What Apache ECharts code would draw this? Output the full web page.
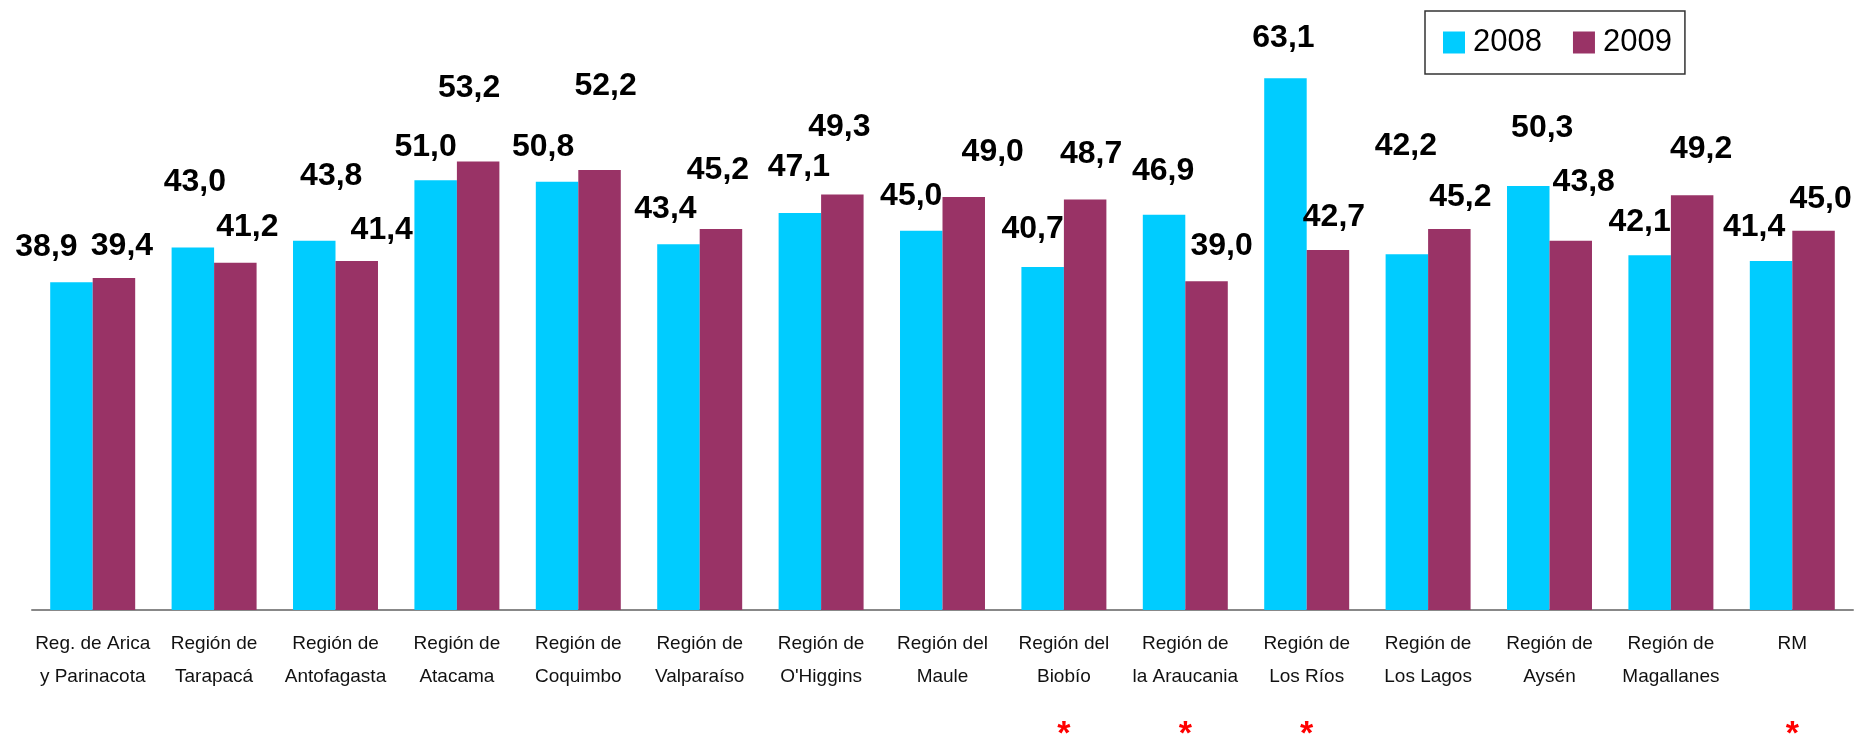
<!DOCTYPE html>
<html>
<head>
<meta charset="utf-8">
<script src="https://cdn.jsdelivr.net/npm/echarts@6/dist/echarts.min.js"></script>
<style>
  html, body { margin: 0; padding: 0; background: #fff; }
  #grafico { width: 1856px; height: 737px; }
</style>
</head>
<body>
<div id="grafico"></div>
<script>
var regiones = [
  'Reg. de Arica\ny Parinacota', 'Región de\nTarapacá', 'Región de\nAntofagasta',
  'Región de\nAtacama', 'Región de\nCoquimbo', 'Región de\nValparaíso',
  "Región de\nO'Higgins", 'Región del\nMaule', 'Región del\nBiobío',
  'Región de\nla Araucania', 'Región de\nLos Ríos', 'Región de\nLos Lagos',
  'Región de\nAysén', 'Región de\nMagallanes', 'RM'
];
var valores2008 = [38.9, 43.0, 43.8, 51.0, 50.8, 43.4, 47.1, 45.0, 40.7, 46.9, 63.1, 42.2, 50.3, 42.1, 41.4];
var valores2009 = [39.4, 41.2, 41.4, 53.2, 52.2, 45.2, 49.3, 49.0, 48.7, 39.0, 42.7, 45.2, 43.8, 49.2, 45.0];
// regiones marcadas con asterisco
var marcadas = [8, 9, 10, 14];

// ubicacion de las etiquetas (como en el original, no todas a la misma altura)
var alto2008 = [35, 65, 65, 33, 35, 35, 46, 35, 38, 44, 40, 108, 58, 33, 34];
var alto2009 = [32, 36, 31, 73, 84, 59, 67, 45, 45, 35, 33, 32, 59, 46, 32];
var dx2008 = [-25, 2, 17, -10, -14, -13, -1, -10, -10, -1, -2, -1, 14, -10, -17];
var dx2009 = [8, 12, 25, -9, 6, -3, -3, 29, 6, 15, 6, 11, 13, 9, 7];

var myChart = echarts.init(document.getElementById('grafico'));

function serie(nombre, color, datos, alto, dx) {
  return {
    name: nombre,
    type: 'bar',
    barGap: '0%',
    barCategoryGap: '30%',
    itemStyle: { color: color },
    label: {
      show: true,
      position: 'top',
      distance: 0,
      fontFamily: 'Liberation Sans, Arial, sans-serif',
      fontWeight: 'bold',
      fontSize: 32,
      lineHeight: 30,
      color: '#000',
      formatter: function (p) { return p.value.toFixed(1).replace('.', ','); }
    },
    data: datos.map(function (v, i) {
      return { value: v, label: { offset: [dx[i], 15 - alto[i]] } };
    })
  };
}

var option = {
  backgroundColor: '#fff',
  animation: false,
  textStyle: { fontFamily: 'Liberation Sans, Arial, sans-serif' },
  legend: {
    left: 1425,
    top: 11,
    orient: 'horizontal',
    borderColor: '#333',
    borderWidth: 1.5,
    padding: [16, 13, 16, 18],
    itemGap: 31,
    itemWidth: 22,
    itemHeight: 22,
    icon: 'rect',
    textStyle: { fontSize: 31, lineHeight: 26, color: '#000', padding: [0, 0, 0, 3] },
    data: ['2008', '2009']
  },
  grid: { left: 32, right: 3, top: 20, bottom: 127, outerBoundsMode: 'none' },
  xAxis: {
    type: 'category',
    data: regiones,
    axisLine: { lineStyle: { color: '#888', width: 2 } },
    axisTick: { length: 5, lineStyle: { color: '#555', width: 1.5 } },
    axisLabel: {
      interval: 0,
      margin: 17,
      fontSize: 19,
      lineHeight: 33,
      color: '#111',
      formatter: function (v, i) {
        var t = v.indexOf('\n') < 0 ? v + '\n ' : v;
        if (marcadas.indexOf(i) >= 0) t += '\n{s|*}';
        return t;
      },
      rich: {
        s: { color: '#ff0000', fontSize: 34, fontWeight: 'bold', lineHeight: 84 }
      }
    }
  },
  yAxis: {
    type: 'value',
    min: 0,
    max: 70,
    show: false,
    splitLine: { show: false }
  },
  series: [
    serie('2008', '#00ccff', valores2008, alto2008, dx2008),
    serie('2009', '#993366', valores2009, alto2009, dx2009)
  ]
};

myChart.setOption(option);
</script>
</body>
</html>
